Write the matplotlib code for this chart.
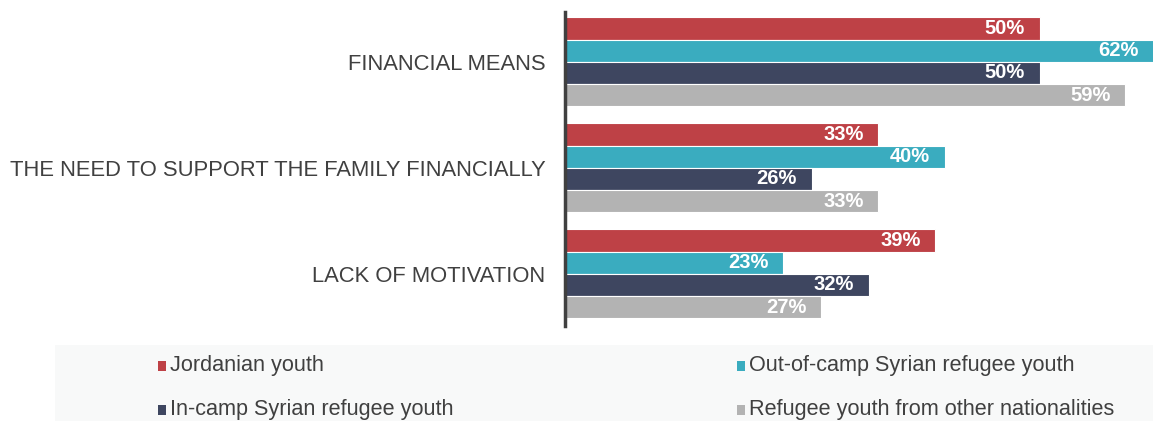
import matplotlib.pyplot as plt
import numpy as np
from matplotlib.patches import Rectangle

plt.rcParams['font.family'] = ['Liberation Sans', 'DejaVu Sans']

categories = ["FINANCIAL MEANS", "THE NEED TO SUPPORT THE FAMILY FINANCIALLY", "LACK OF MOTIVATION"]
series_names = ["Jordanian youth", "Out-of-camp Syrian refugee youth",
                "In-camp Syrian refugee youth", "Refugee youth from other nationalities"]
jordanian = [50, 33, 39]
out_of_camp = [62, 40, 23]
in_camp = [50, 26, 32]
other_nat = [59, 33, 27]
colors = ["#BE4146", "#3AACBF", "#3E4660", "#B3B3B3"]

W, H = 1153, 421
fig = plt.figure(figsize=(W / 100, H / 100), dpi=100)

# legend background band
fig.add_artist(Rectangle((55 / W, 0), 1 - 55 / W, 1 - 345 / H, transform=fig.transFigure,
                         facecolor="#F8F9F9", edgecolor="none", zorder=0))

ax = fig.add_axes([565 / W, 1 - 330 / H, 1 - 565 / W, 318 / H])
ax.set_facecolor("none")

y = np.arange(len(categories))
h = 0.21
offsets = [-1.5 * h, -0.5 * h, 0.5 * h, 1.5 * h]
all_series = [jordanian, out_of_camp, in_camp, other_nat]

for vals, off, c in zip(all_series, offsets, colors):
    bars = ax.barh(y + off, vals, height=h, color=c, edgecolor="white", linewidth=0.8)
    for b, v in zip(bars, vals):
        ax.annotate(f"{v}%", (v, b.get_y() + b.get_height() / 2), xytext=(-15, 0),
                    textcoords="offset pixels", ha="right", va="center",
                    color="white", fontsize=14.5, fontweight="bold",
                    annotation_clip=False)

ax.set_xlim(0, 61.9)
ax.set_ylim(2.53, -0.47)
ax.set_yticks(y)
ax.set_yticklabels(categories, fontsize=15.8, color="#404040")
ax.tick_params(axis="y", length=0, pad=14)
ax.set_xticks([])
for s in ["top", "right", "bottom"]:
    ax.spines[s].set_visible(False)
ax.spines["left"].set_color("#404040")
ax.spines["left"].set_linewidth(2.5)
ax.spines["left"].set_bounds(2.49, -0.47)

# legend
leg_pos = [(158, 366), (737, 366), (158, 410), (737, 410)]
for (lx, ly), name, c in zip(leg_pos, series_names, colors):
    fig.add_artist(Rectangle((lx / W, 1 - (ly + 5) / H), 8 / W, 10 / H,
                             transform=fig.transFigure, facecolor=c, edgecolor="none"))
    fig.text((lx + 12) / W, 1 - ly / H, name, ha="left", va="center",
             fontsize=15.6, color="#404040")

fig.savefig("out.png", dpi=100)
